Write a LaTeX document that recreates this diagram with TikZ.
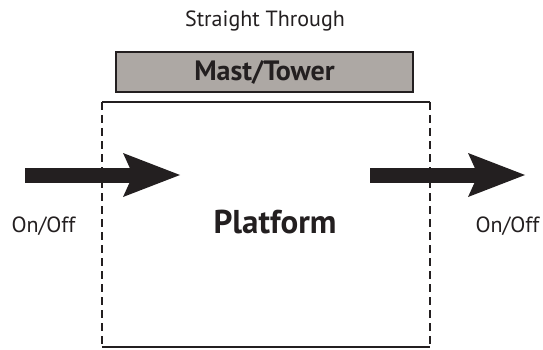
\documentclass[tikz,border=0pt]{standalone}
\usepackage{fontspec}
\setmainfont{PT Sans}
\definecolor{mastgray}{HTML}{ADA8A4}
\definecolor{ink}{HTML}{231F20}
\begin{document}
\begin{tikzpicture}[x=1pt,y=-1pt,
  lbl/.style={inner sep=0pt,text=ink,font=\fontsize{22}{26}\selectfont},
  boldlbl/.style={inner sep=0pt,text=ink,font=\fontsize{28}{32}\selectfont\bfseries},
  edge/.style={ink,line width=1.8pt},
  dashedge/.style={ink,line width=2pt,dash pattern=on 8pt off 5pt}]
\useasboundingbox (0,0) rectangle (543,350);
% mast
\node[draw=ink,line width=1.3pt,fill=mastgray,minimum width=297pt,minimum height=40pt,inner sep=0pt] (mast) at (264.5,72) {};
\node[boldlbl] (masttext) at (264.5,72) {Mast/Tower};
\node[lbl] (title) at (265,21) {Straight Through};
% platform
\coordinate (tl) at (102,102);
\coordinate (tr) at (430,102);
\coordinate (bl) at (102,347);
\coordinate (br) at (430,347);
\draw[edge] (tl) -- (tr);
\draw[edge] (bl) -- (br);
\draw[dashedge] (tl) -- (bl);
\draw[dashedge] (tr) -- (br);
\node[boldlbl,font=\fontsize{33}{38}\selectfont\bfseries] (platform) at (275,222) {Platform};
% arrows
\fill[ink] (25,167.5) rectangle (135,182.5);
\fill[ink] (123,153) -- (180,175) -- (123,197) -- (133,175) -- cycle;
\fill[ink] (370,167.5) rectangle (480,182.5);
\fill[ink] (468,153) -- (525,175) -- (468,197) -- (478,175) -- cycle;
\node[lbl] (onoffL) at (43.5,226) {On/Off};
\node[lbl] (onoffR) at (507.5,226) {On/Off};
\end{tikzpicture}
\end{document}
